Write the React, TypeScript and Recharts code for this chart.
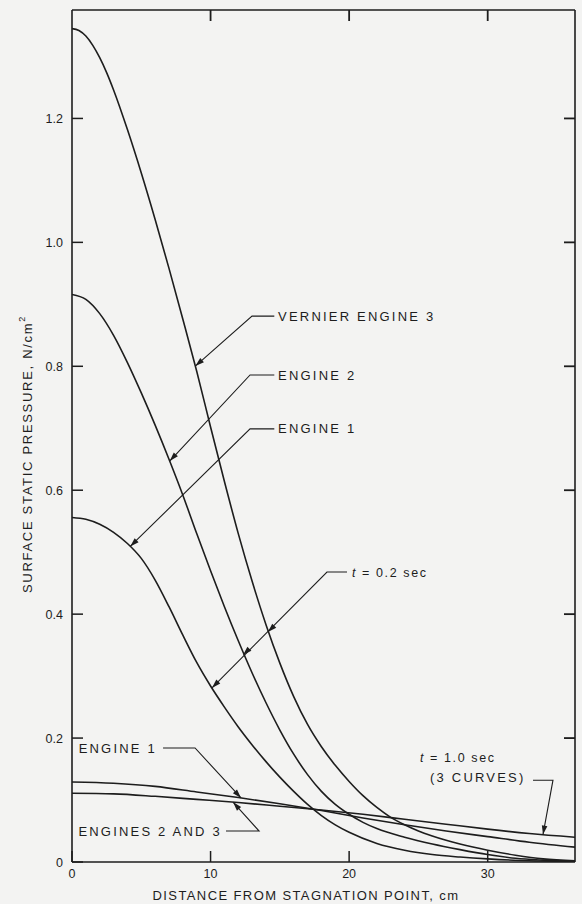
import { LineChart, Line, XAxis, YAxis } from 'recharts';

const W = 582;
const H = 904;
const INK = '#1d1d1d';
const PAPER = '#f3f3f2';
const FONT = '"Liberation Sans", Arial, sans-serif';

// plot box in page pixels (used for the annotation overlay and frame ticks)
const PLOT = { left: 72, top: 10, right: 575, bottom: 862 };
const X_MAX = 36.3;
const Y_MAX = 1.375;

const xTicks = [0, 10, 20, 30];
const yTicks = [0, 0.2, 0.4, 0.6, 0.8, 1.0, 1.2];

// t = 0.2 sec
const vernierX = [0, 0.5, 1, 1.5, 2, 2.5, 3, 4, 5, 6, 7, 8, 9, 10, 11, 12, 13, 14, 15, 16, 17, 18, 19, 20, 21, 22, 23, 24, 25, 26, 27, 28, 30, 32, 34, 36.3];
const vernierY = [1.345, 1.342, 1.333, 1.318, 1.298, 1.274, 1.246, 1.182, 1.112, 1.037, 0.958, 0.876, 0.792, 0.702, 0.614, 0.53, 0.453, 0.383, 0.321, 0.267, 0.222, 0.186, 0.156, 0.13, 0.107, 0.088, 0.072, 0.06, 0.05, 0.042, 0.035, 0.029, 0.019, 0.011, 0.005, 0.002];

const engine2X = [0, 1, 2, 3, 4, 5, 6, 7, 8, 9, 10, 11, 12, 13, 14, 15, 16, 17, 18, 19, 20, 21, 22, 24, 26, 28, 30, 32, 34, 36.3];
const engine2Y = [0.916, 0.908, 0.885, 0.85, 0.806, 0.757, 0.705, 0.65, 0.592, 0.53, 0.47, 0.412, 0.357, 0.305, 0.257, 0.213, 0.174, 0.141, 0.114, 0.093, 0.077, 0.064, 0.054, 0.04, 0.029, 0.02, 0.012, 0.006, 0.003, 0.001];

const engine1X = [0, 1, 2, 3, 4, 5, 6, 7, 8, 9, 10, 11, 12, 13, 14, 15, 16, 17, 18, 19, 20, 22, 24, 26, 28, 30, 33, 36.3];
const engine1Y = [0.556, 0.553, 0.545, 0.532, 0.514, 0.49, 0.455, 0.412, 0.366, 0.322, 0.284, 0.25, 0.218, 0.189, 0.162, 0.137, 0.114, 0.093, 0.075, 0.06, 0.048, 0.03, 0.019, 0.012, 0.008, 0.005, 0.002, 0.001];

// t = 1.0 sec
const lateX = [0, 3, 6, 9, 12, 15, 18, 21, 24, 27, 30, 33, 36.3];
const lateEngine1Y = [0.129, 0.127, 0.122, 0.113, 0.104, 0.094, 0.083, 0.071, 0.06, 0.05, 0.041, 0.032, 0.024];
const lateEngine23Y = [0.111, 0.11, 0.106, 0.101, 0.096, 0.09, 0.084, 0.077, 0.069, 0.061, 0.053, 0.046, 0.04];

const toPoints = (xs: number[], ys: number[]) => xs.map((x, i) => ({ x, y: ys[i] }));

const series = [
  { key: 'vernier', data: toPoints(vernierX, vernierY) },
  { key: 'engine2', data: toPoints(engine2X, engine2Y) },
  { key: 'engine1', data: toPoints(engine1X, engine1Y) },
  { key: 'late1', data: toPoints(lateX, lateEngine1Y) },
  { key: 'late23', data: toPoints(lateX, lateEngine23Y) },
];

// value of a curve at x, so arrow tips sit on the line
const at = (xs: number[], ys: number[], x: number) => {
  for (let i = 1; i < xs.length; i++) {
    if (x <= xs[i]) {
      const t = (x - xs[i - 1]) / (xs[i] - xs[i - 1]);
      return ys[i - 1] + t * (ys[i] - ys[i - 1]);
    }
  }
  return ys[ys.length - 1];
};

// data -> page pixels, same box as the chart
const px = (x: number) => PLOT.left + (x / X_MAX) * (PLOT.right - PLOT.left);
const py = (y: number) => PLOT.bottom - (y / Y_MAX) * (PLOT.bottom - PLOT.top);

type Pt = [number, number];

const tipV = at(vernierX, vernierY, 8.9);
const tipE2 = at(engine2X, engine2Y, 7.05);
const tipE1 = at(engine1X, engine1Y, 4.2);
const tipL1 = at(lateX, lateEngine1Y, 12.2);
const tipL23 = at(lateX, lateEngine23Y, 11.62);
const tipL3 = at(lateX, lateEngine23Y, 33.99);

const leaders: { label: string; at: Pt; anchor?: 'start' | 'end'; path: Pt[]; heads: Pt[] }[] = [
  { label: 'VERNIER ENGINE 3', at: [14.87, 0.881], path: [[14.6, 0.881], [12.99, 0.881], [8.9, tipV]], heads: [[8.9, tipV]] },
  { label: 'ENGINE 2', at: [14.87, 0.786], path: [[14.6, 0.786], [12.85, 0.786], [7.05, tipE2]], heads: [[7.05, tipE2]] },
  { label: 'ENGINE 1', at: [14.87, 0.699], path: [[14.6, 0.699], [12.85, 0.699], [4.2, tipE1]], heads: [[4.2, tipE1]] },
  { label: 'ENGINE 1', at: [6.13, 0.184], anchor: 'end', path: [[6.57, 0.184], [8.88, 0.184], [12.2, tipL1]], heads: [[12.2, tipL1]] },
  { label: 'ENGINES 2 AND 3', at: [10.82, 0.05], anchor: 'end', path: [[11.11, 0.05], [13.5, 0.05], [11.62, tipL23]], heads: [[11.62, tipL23]] },
  { label: '', at: [0, 0], path: [[19.85, 0.468], [18.4, 0.468], [10.1, 0.281]], heads: [[14.14, 0.371], [12.34, 0.334], [10.1, 0.281]] },
  { label: '', at: [0, 0], path: [[33.27, 0.132], [34.71, 0.132], [33.99, tipL3]], heads: [[33.99, tipL3]] },
];

function Head({ tip, from }: { tip: Pt; from: Pt }) {
  const tx = px(tip[0]);
  const ty = py(tip[1]);
  const dx = tx - px(from[0]);
  const dy = ty - py(from[1]);
  const len = Math.hypot(dx, dy) || 1;
  const ux = dx / len;
  const uy = dy / len;
  const L = 9;
  const hw = 2.8;
  const bx = tx - ux * L;
  const by = ty - uy * L;
  const pts = `${tx},${ty} ${bx - uy * hw},${by + ux * hw} ${bx + uy * hw},${by - ux * hw}`;
  return <polygon points={pts} fill={INK} />;
}

function YTick(props: any) {
  const { y, payload } = props;
  const v = payload.value;
  return (
    <g>
      <line x1={PLOT.left} x2={PLOT.left + 11} y1={y} y2={y} stroke={INK} strokeWidth={1.5} />
      <text x={PLOT.left - 9} y={y + 4.5} textAnchor="end" fontSize={12.5} fontFamily={FONT} fill={INK}>
        {v === 0 ? '0' : v.toFixed(1)}
      </text>
    </g>
  );
}

function XTick(props: any) {
  const { x, payload } = props;
  return (
    <g>
      <line x1={x} x2={x} y1={PLOT.bottom} y2={PLOT.bottom - 11} stroke={INK} strokeWidth={1.5} />
      <text x={x} y={878} textAnchor="middle" fontSize={12.5} fontFamily={FONT} fill={INK}>
        {payload.value}
      </text>
    </g>
  );
}

function Annotations() {
  const textStyle = { fontSize: 13, fontFamily: FONT, fill: INK, letterSpacing: 2.2 };
  return (
    <svg width={W} height={H} style={{ position: 'absolute', left: 0, top: 0, pointerEvents: 'none' }}>
      {/* inward ticks on the top and right sides of the frame */}
      {xTicks.filter((v) => v > 0).map((v) => (
        <path key={`t${v}`} d={`M${px(v)},${PLOT.top} V${PLOT.top + 11}`} stroke={INK} strokeWidth={1.8} fill="none" />
      ))}
      {yTicks.filter((v) => v > 0).map((v) => (
        <path key={`r${v}`} d={`M${PLOT.right},${py(v)} H${PLOT.right - 11}`} stroke={INK} strokeWidth={1.8} fill="none" />
      ))}
      {leaders.map((l, i) => (
        <g key={i}>
          <polyline
            points={l.path.map((p) => `${px(p[0])},${py(p[1])}`).join(' ')}
            fill="none"
            stroke={INK}
            strokeWidth={1.1}
          />
          {l.heads.map((h, j) => (
            <Head key={j} tip={h} from={l.path[l.path.length - 2]} />
          ))}
          {l.label && (
            <text x={px(l.at[0])} y={py(l.at[1]) + 4.6} textAnchor={l.anchor ?? 'start'} {...textStyle}>
              {l.label}
            </text>
          )}
        </g>
      ))}
      <text x={px(20.2)} y={py(0.468) + 4.5} fontSize={12.5} fontFamily={FONT} fill={INK} letterSpacing={1.6}>
        <tspan fontStyle="italic">t</tspan> = 0.2 sec
      </text>
      <text x={px(25.11)} y={py(0.168) + 4.5} fontSize={12.5} fontFamily={FONT} fill={INK} letterSpacing={1.6}>
        <tspan fontStyle="italic">t</tspan> = 1.0 sec
      </text>
      <text x={px(25.84)} y={py(0.136) + 4.6} {...textStyle}>
        (3 CURVES)
      </text>
      <text
        x={27}
        y={454}
        transform="rotate(-90 27 454)"
        textAnchor="middle"
        dominantBaseline="central"
        fontSize={13}
        fontFamily={FONT}
        fill={INK}
        letterSpacing={1.7}
      >
        SURFACE STATIC PRESSURE, N/cm<tspan dy={-5} fontSize={9}>2</tspan>
      </text>
      <text x={306} y={900} textAnchor="middle" fontSize={13} fontFamily={FONT} fill={INK} letterSpacing={1.4}>
        DISTANCE FROM STAGNATION POINT, cm
      </text>
    </svg>
  );
}

export default function App() {
  return (
    <div style={{ position: 'absolute', left: 0, top: 0, width: W, height: H, background: PAPER }}>
      <LineChart width={W} height={H} margin={{ top: 9, right: 6, left: 0, bottom: 0 }}>
        <XAxis
          dataKey="x"
          type="number"
          domain={[0, X_MAX]}
          ticks={xTicks}
          allowDataOverflow
          height={42}
          tickLine={false}
          tickSize={0}
          axisLine={{ stroke: INK, strokeWidth: 1.6 }}
          tick={<XTick />}
        />
        <XAxis
          xAxisId="top"
          dataKey="x"
          type="number"
          orientation="top"
          domain={[0, X_MAX]}
          ticks={xTicks}
          allowDataOverflow
          height={1}
          tickLine={false}
          tick={false}
          axisLine={{ stroke: INK, strokeWidth: 1.6 }}
        />
        <YAxis
          type="number"
          domain={[0, Y_MAX]}
          ticks={yTicks}
          allowDataOverflow
          width={72}
          tickLine={false}
          tickSize={0}
          axisLine={{ stroke: INK, strokeWidth: 1.6 }}
          tick={<YTick />}
        />
        <YAxis
          yAxisId="right"
          type="number"
          orientation="right"
          domain={[0, Y_MAX]}
          ticks={yTicks}
          allowDataOverflow
          width={1}
          tickLine={false}
          tick={false}
          axisLine={{ stroke: INK, strokeWidth: 1.6 }}
        />
        {series.map((s) => (
          <Line
            key={s.key}
            data={s.data}
            dataKey="y"
            type="monotone"
            stroke={INK}
            strokeWidth={1.6}
            dot={false}
            isAnimationActive={false}
          />
        ))}
        {/* invisible series so the top/right frame axes get a domain */}
        <Line
          data={series[0].data}
          dataKey="y"
          xAxisId="top"
          yAxisId="right"
          stroke="none"
          dot={false}
          isAnimationActive={false}
        />
      </LineChart>
      <Annotations />
    </div>
  );
}
